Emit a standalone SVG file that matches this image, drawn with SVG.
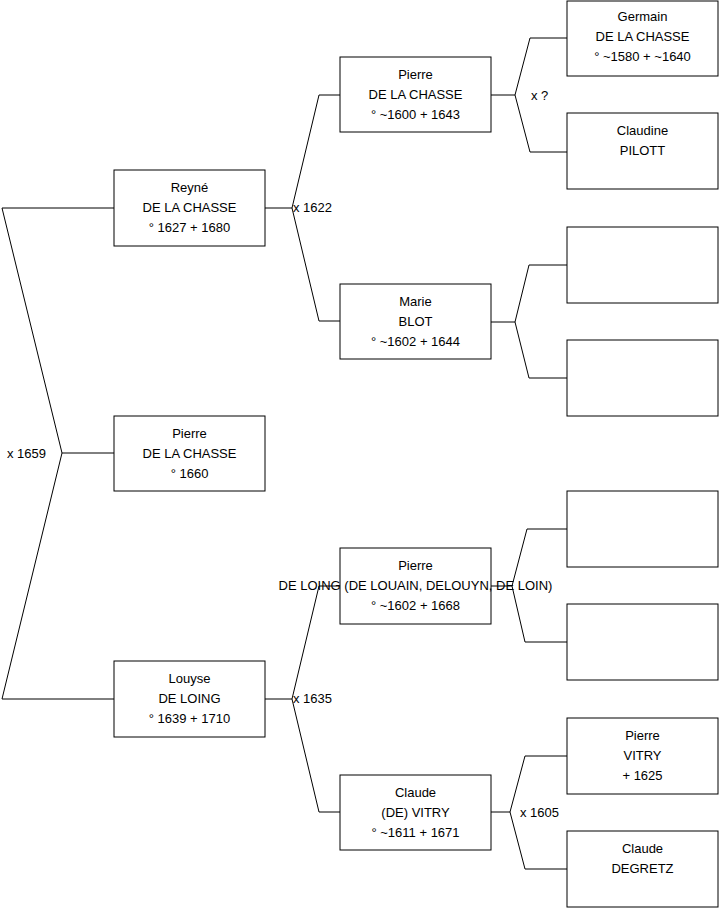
<svg xmlns="http://www.w3.org/2000/svg" width="719" height="908" viewBox="0 0 719 908">
<style>
.box{fill:#fff;stroke:#000;stroke-width:1}
.ln{fill:none;stroke:#000;stroke-width:1}
text{font-family:"Liberation Sans",Arial,sans-serif;font-size:13px;fill:#000}
.c{text-anchor:middle}
</style>
<rect width="719" height="908" fill="#fff"/>
<g id="connectors">
<polyline class="ln" points="114,208 2,208 62,453 2,699 114,699"/>
<line class="ln" x1="62" y1="453" x2="114" y2="453"/>
<polyline class="ln" points="340,95 319,95 292,208 319,321 340,321"/>
<line class="ln" x1="265" y1="208" x2="292" y2="208"/>
<polyline class="ln" points="567,38 530,38 515,95 530,152 567,152"/>
<line class="ln" x1="491" y1="95" x2="515" y2="95"/>
<polyline class="ln" points="567,265 529,265 515,322 529,378 567,378"/>
<line class="ln" x1="491" y1="322" x2="515" y2="322"/>
<polyline class="ln" points="340,586 319,586 292,699 319,812 340,812"/>
<line class="ln" x1="265" y1="699" x2="292" y2="699"/>
<polyline class="ln" points="567,529 527,529 512,586 525,642 567,642"/>
<line class="ln" x1="491" y1="586" x2="512" y2="586"/>
<polyline class="ln" points="567,756 525,756 510,812 525,869 567,869"/>
<line class="ln" x1="491" y1="812" x2="510" y2="812"/>
<text x="7" y="458">x 1659</text>
<text x="293" y="212">x 1622</text>
<text x="531" y="100">x ?</text>
<text x="293" y="703">x 1635</text>
<text x="520" y="817">x 1605</text>
</g>
<g id="n-reyne"><rect class="box" x="114" y="170" width="151" height="76"/>
<text class="c" x="189.5" y="192">Reyné</text><text class="c" x="189.5" y="212">DE LA CHASSE</text><text class="c" x="189.5" y="232">° 1627 + 1680</text></g>
<g id="n-pierre-child"><rect class="box" x="114" y="416" width="151" height="75"/>
<text class="c" x="189.5" y="438">Pierre</text><text class="c" x="189.5" y="458">DE LA CHASSE</text><text class="c" x="189.5" y="478">° 1660</text></g>
<g id="n-louyse"><rect class="box" x="114" y="661" width="151" height="76"/>
<text class="c" x="189.5" y="683">Louyse</text><text class="c" x="189.5" y="703">DE LOING</text><text class="c" x="189.5" y="723">° 1639 + 1710</text></g>
<g id="n-pierre-dlc"><rect class="box" x="340" y="57" width="151" height="75"/>
<text class="c" x="415.5" y="79">Pierre</text><text class="c" x="415.5" y="99">DE LA CHASSE</text><text class="c" x="415.5" y="119">° ~1600 + 1643</text></g>
<g id="n-marie"><rect class="box" x="340" y="284" width="151" height="75"/>
<text class="c" x="415.5" y="306">Marie</text><text class="c" x="415.5" y="326">BLOT</text><text class="c" x="415.5" y="346">° ~1602 + 1644</text></g>
<g id="n-pierre-dl"><rect class="box" x="340" y="548" width="151" height="76"/>
<text class="c" x="415.5" y="570">Pierre</text><text class="c" x="415.5" y="590">DE LOING (DE LOUAIN, DELOUYN, DE LOIN)</text><text class="c" x="415.5" y="610">° ~1602 + 1668</text></g>
<g id="n-claude"><rect class="box" x="340" y="775" width="151" height="75"/>
<text class="c" x="415.5" y="797">Claude</text><text class="c" x="415.5" y="817">(DE) VITRY</text><text class="c" x="415.5" y="837">° ~1611 + 1671</text></g>
<g id="n-germain"><rect class="box" x="567" y="1" width="151" height="75"/>
<text class="c" x="642.5" y="21">Germain</text><text class="c" x="642.5" y="41">DE LA CHASSE</text><text class="c" x="642.5" y="61">° ~1580 + ~1640</text></g>
<g id="n-claudine"><rect class="box" x="567" y="113" width="151" height="76"/>
<text class="c" x="642.5" y="135">Claudine</text><text class="c" x="642.5" y="155">PILOTT</text></g>
<g id="n-empty1"><rect class="box" x="567" y="227" width="151" height="76"/></g>
<g id="n-empty2"><rect class="box" x="567" y="340" width="151" height="76"/></g>
<g id="n-empty3"><rect class="box" x="567" y="491" width="151" height="76"/></g>
<g id="n-empty4"><rect class="box" x="567" y="604" width="151" height="76"/></g>
<g id="n-pierre-vitry"><rect class="box" x="567" y="718" width="151" height="76"/>
<text class="c" x="642.5" y="740">Pierre</text><text class="c" x="642.5" y="760">VITRY</text><text class="c" x="642.5" y="780">+ 1625</text></g>
<g id="n-claude-degretz"><rect class="box" x="567" y="831" width="151" height="76"/>
<text class="c" x="642.5" y="853">Claude</text><text class="c" x="642.5" y="873">DEGRETZ</text></g>
</svg>
